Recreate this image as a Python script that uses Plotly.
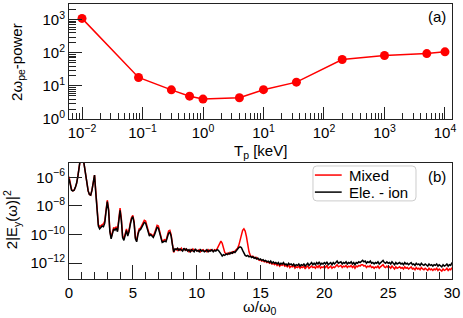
import plotly.graph_objects as go

# ---------------- data: panel (a) ----------------
tp_kev = [0.01, 0.086, 0.3, 0.6, 1.0, 4.0, 10, 35, 200, 1000, 5000, 10000]
power_2wpe = [1100, 18, 7.6, 4.9, 4.0, 4.4, 7.7, 13, 63, 83, 95, 107]

# ---------------- data: panel (b) ----------------
omega_step = 0.1  # spectrum sampled every 0.1 omega_0 from 0 to 30
series_names = ["Mixed", "Ele. - ion"]
# log10 of 2|Ey(w)|^2
eleion_log10 = [
    -6.10, -6.60, -6.90, -6.95, -6.90, -6.70, -6.40, -5.90, -5.10, -4.60,
    -4.00, -4.60, -5.20, -6.00, -6.60, -6.95, -7.20, -7.25, -6.90, -6.20,
    -5.85, -7.10, -8.70, -9.40, -9.60, -9.50, -9.40, -9.45, -9.20, -8.40,
    -7.70, -8.30, -9.80, -10.30, -9.90, -9.60, -9.70, -9.55, -9.80, -9.10,
    -8.30, -9.00, -10.20, -10.40, -10.00, -9.70, -10.10, -9.80, -9.30, -8.90,
    -8.75, -9.20, -10.30, -10.50, -10.00, -9.70, -9.65, -9.50, -9.30, -9.15,
    -9.20, -9.50, -9.95, -10.10, -10.00, -10.15, -10.20, -10.00, -9.70, -9.50,
    -9.55, -9.90, -10.40, -10.55, -10.50, -10.45, -10.50, -10.20, -9.90, -9.85,
    -10.10, -10.70, -11.20, -11.00, -11.05, -10.95, -11.10, -11.00, -11.05, -11.15,
    -10.95, -11.10, -11.00, -11.15, -11.05, -11.20, -11.05, -11.10, -11.20, -11.00,
    -11.15, -11.10, -11.20, -11.05, -11.15, -11.10, -11.20, -11.15, -11.05, -11.20,
    -11.10, -11.15, -11.05, -11.20, -11.10, -11.15, -11.05, -11.10, -11.20, -11.35,
    -11.50, -11.40, -11.45, -11.35, -11.40, -11.30, -11.35, -11.25, -11.30, -11.20,
    -11.25, -11.10, -11.00, -10.90, -10.85, -10.90, -11.10, -11.30, -11.45, -11.50,
    -11.45, -11.55, -11.50, -11.60, -11.55, -11.65, -11.60, -11.70, -11.65, -11.75,
    -11.70, -11.80, -11.75, -11.85, -11.80, -11.90, -11.85, -11.95, -11.85, -12.00,
    -11.90, -12.00, -11.95, -12.05, -11.95, -12.10, -12.00, -12.05, -11.95, -12.10,
    -12.05, -12.15, -12.00, -12.10, -12.05, -12.15, -12.05, -12.20, -12.10, -12.15,
    -12.05, -12.20, -12.10, -12.15, -12.05, -12.20, -12.10, -12.00, -12.15, -12.05,
    -11.95, -12.10, -12.00, -12.10, -11.95, -12.05, -11.90, -12.10, -12.00, -12.05,
    -11.95, -12.05, -11.90, -12.10, -12.00, -11.95, -12.10, -11.95, -12.05, -11.90,
    -11.85, -12.00, -11.95, -11.90, -12.05, -11.95, -12.00, -11.90, -12.05, -11.95,
    -12.00, -11.90, -12.05, -11.95, -12.10, -11.95, -12.00, -11.90, -11.95, -11.85,
    -11.80, -11.90, -11.85, -12.00, -11.90, -11.95, -11.85, -12.00, -11.95, -12.05,
    -11.95, -12.00, -11.90, -12.05, -11.95, -11.85, -11.80, -11.95, -12.00, -11.90,
    -12.00, -11.95, -12.05, -11.90, -12.00, -12.10, -11.95, -12.05, -12.00, -11.95,
    -12.05, -12.00, -12.10, -11.95, -12.05, -12.00, -12.10, -12.05, -11.95, -12.10,
    -12.05, -12.15, -12.00, -12.10, -12.05, -12.15, -12.00, -12.10, -12.15, -12.05,
    -12.10, -12.20, -12.05, -12.15, -12.10, -12.20, -12.10, -12.15, -12.05, -12.20,
    -12.10, -12.15, -12.25, -12.10, -12.20, -12.15, -12.05, -12.20, -12.10, -12.15,
    -11.95,
]
mixed_log10 = [
    -5.95, -6.50, -6.85, -6.95, -6.90, -6.70, -6.40, -5.90, -5.10, -4.60,
    -4.00, -4.60, -5.20, -6.00, -6.60, -6.95, -7.20, -7.25, -6.90, -6.20,
    -5.85, -7.00, -8.60, -9.30, -9.45, -9.35, -9.30, -9.25, -9.05, -8.30,
    -7.60, -8.20, -9.70, -10.20, -9.80, -9.50, -9.60, -9.45, -9.70, -9.00,
    -8.15, -8.90, -10.10, -10.30, -9.90, -9.60, -10.00, -9.70, -9.20, -8.80,
    -8.65, -9.10, -10.20, -10.40, -9.90, -9.60, -9.55, -9.40, -9.15, -9.00,
    -9.05, -9.40, -9.85, -10.00, -9.95, -10.05, -10.10, -9.90, -9.55, -9.35,
    -9.40, -9.80, -10.30, -10.50, -10.40, -10.35, -10.40, -10.05, -9.75, -9.70,
    -10.00, -10.65, -11.25, -11.05, -11.00, -11.10, -11.00, -11.10, -10.95, -11.10,
    -11.05, -11.00, -11.10, -11.05, -11.20, -11.05, -11.15, -11.00, -11.10, -11.05,
    -11.10, -11.15, -11.05, -11.20, -11.10, -11.05, -11.15, -11.10, -11.20, -11.05,
    -11.15, -11.05, -11.10, -11.15, -11.05, -11.10, -11.00, -10.85, -10.60, -10.45,
    -10.60, -10.95, -11.25, -11.35, -11.30, -11.35, -11.25, -11.30, -11.20, -11.25,
    -11.15, -11.05, -10.95, -10.75, -10.40, -10.00, -9.70, -9.60, -9.75, -10.15,
    -10.70, -11.20, -11.45, -11.55, -11.50, -11.60, -11.65, -11.60, -11.70, -11.80,
    -11.75, -11.85, -11.80, -11.90, -11.85, -11.95, -11.90, -12.00, -11.95, -12.05,
    -12.00, -12.10, -12.00, -12.15, -12.05, -12.20, -12.10, -12.15, -12.05, -12.20,
    -12.15, -12.25, -12.10, -12.30, -12.20, -12.25, -12.15, -12.35, -12.25, -12.30,
    -12.20, -12.35, -12.25, -12.30, -12.20, -12.40, -12.25, -12.20, -12.35, -12.25,
    -12.20, -12.30, -12.25, -12.35, -12.20, -12.30, -12.15, -12.35, -12.25, -12.30,
    -12.20, -12.30, -12.15, -12.35, -12.25, -12.20, -12.35, -12.25, -12.30, -12.15,
    -12.10, -12.25, -12.20, -12.15, -12.30, -12.20, -12.25, -12.15, -12.30, -12.20,
    -12.25, -12.15, -12.30, -12.20, -12.35, -12.20, -12.25, -12.15, -12.20, -12.10,
    -12.10, -12.20, -12.15, -12.30, -12.20, -12.25, -12.15, -12.30, -12.25, -12.35,
    -12.25, -12.30, -12.20, -12.35, -12.25, -12.15, -12.10, -12.25, -12.30, -12.20,
    -12.30, -12.25, -12.35, -12.20, -12.30, -12.40, -12.25, -12.35, -12.30, -12.25,
    -12.35, -12.30, -12.40, -12.25, -12.35, -12.30, -12.40, -12.35, -12.25, -12.40,
    -12.35, -12.45, -12.30, -12.40, -12.35, -12.45, -12.30, -12.40, -12.45, -12.35,
    -12.40, -12.50, -12.35, -12.45, -12.40, -12.50, -12.40, -12.45, -12.35, -12.50,
    -12.40, -12.45, -12.55, -12.40, -12.50, -12.45, -12.35, -12.50, -12.40, -12.45,
    -12.30,
]

# tick labels
top_x_exps = [-2, -1, 0, 1, 2, 3, 4]
top_y_exps = [0, 1, 2, 3]
bot_y_exps = [-12, -10, -8, -6]


def pow_label(e):
    s = str(e).replace("-", "\u2212")
    return "10<sup>" + s + "</sup>"


omega = [round(i * omega_step, 2) for i in range(len(eleion_log10))]
eleion = [10 ** v for v in eleion_log10]
mixed = [10 ** v for v in mixed_log10]

FONT = "Liberation Sans, Arial, Helvetica, sans-serif"
AX = "#222222"
RED = "#ff0000"
BLACK = "#000000"

fig = go.Figure()
fig.add_trace(go.Scatter(
    x=tp_kev, y=power_2wpe, mode="lines+markers",
    line=dict(color=RED, width=1.5),
    marker=dict(color=RED, size=9),
    showlegend=False, xaxis="x", yaxis="y"))
fig.add_trace(go.Scatter(
    x=omega, y=mixed, mode="lines", name=series_names[0],
    line=dict(color=RED, width=1.5), showlegend=False,
    xaxis="x2", yaxis="y2"))
fig.add_trace(go.Scatter(
    x=omega, y=eleion, mode="lines", name=series_names[1],
    line=dict(color=BLACK, width=1.5), showlegend=False,
    xaxis="x2", yaxis="y2"))

minor_top_x = [m * 10.0 ** d for d in range(-3, 5) for m in range(2, 10)]
minor_top_y = [m * 10.0 ** d for d in range(0, 4) for m in range(2, 10)]

common = dict(showgrid=False, zeroline=False, showline=True, linecolor=AX,
              linewidth=1, mirror=True, ticks="inside", tickcolor=AX,
              tickwidth=1, tickfont=dict(family=FONT, size=15, color="#000"))

fig.update_layout(
    width=463, height=318,
    margin=dict(l=69, r=11, t=4, b=39),
    paper_bgcolor="white", plot_bgcolor="white",
    font=dict(family=FONT, size=15, color="#000"),
    showlegend=False,
    xaxis=dict(domain=[0, 1], anchor="y", type="log",
               range=[-2.215, 4.116],
               tickmode="array",
               tickvals=[10.0 ** e for e in top_x_exps],
               ticktext=[pow_label(e) for e in top_x_exps],
               ticklen=12,
               minor=dict(tickmode="array", tickvals=minor_top_x,
                          ticks="inside", ticklen=6, tickcolor=AX,
                          showgrid=False),
               **common),
    yaxis=dict(domain=[0.5818, 1], anchor="x", type="log",
               range=[0, 3.476],
               tickmode="array",
               tickvals=[10.0 ** e for e in top_y_exps],
               ticktext=[pow_label(e) for e in top_y_exps],
               ticklen=13,
               minor=dict(tickmode="array", tickvals=minor_top_y,
                          ticks="inside", ticklen=7, tickcolor=AX,
                          showgrid=False),
               **common),
    xaxis2=dict(domain=[0, 1], anchor="y2", range=[0, 30],
                tickmode="linear", tick0=0, dtick=5, ticklen=14,
                minor=dict(dtick=1, ticks="inside", ticklen=7,
                           tickcolor=AX, showgrid=False),
                **common),
    yaxis2=dict(domain=[0, 0.4218], anchor="x2", type="log",
                range=[-13.1, -5.0],
                tickmode="array",
                tickvals=[10.0 ** e for e in bot_y_exps],
                ticktext=[pow_label(e) for e in bot_y_exps],
                ticklen=13,
                **common),
)

annots = [
    dict(text="(a)", x=0.961, y=0.953),
    dict(text="(b)", x=0.961, y=0.371),
    dict(text="T<sub>p</sub> [keV]", x=0.4987, y=0.462),
    dict(text="\u03c9/\u03c9<sub>0</sub>", x=0.4987, y=-0.103),
    dict(text="2\u03c9<sub>pe</sub>-power", x=-0.136, y=0.789, textangle=-90),
    dict(text="2|E<sub>y</sub>(\u03c9)|<sup>2</sup>", x=-0.151, y=0.2145,
         textangle=-90),
]
for a in annots:
    fig.add_annotation(xref="paper", yref="paper", showarrow=False,
                       xanchor="center", yanchor="middle",
                       font=dict(family=FONT, size=15, color="#000"), **a)

# ---- legend box (drawn in paper coordinates) ----
lx0, lx1, ly0, ly1 = 0.637, 0.906, 0.284, 0.411
r = 0.01
fig.add_shape(type="path", xref="paper", yref="paper",
              path=(f"M {lx0+r},{ly0} L {lx1-r},{ly0} Q {lx1},{ly0} {lx1},{ly0+r*1.4} "
                    f"L {lx1},{ly1-r*1.4} Q {lx1},{ly1} {lx1-r},{ly1} "
                    f"L {lx0+r},{ly1} Q {lx0},{ly1} {lx0},{ly1-r*1.4} "
                    f"L {lx0},{ly0+r*1.4} Q {lx0},{ly0} {lx0+r},{ly0} Z"),
              line=dict(color="#cccccc", width=1), fillcolor="white", layer="above")
entry_y = [0.378, 0.316]
for name, col, yy in zip(series_names, [RED, BLACK], entry_y):
    fig.add_shape(type="line", xref="paper", yref="paper",
                  x0=0.642, x1=0.712, y0=yy, y1=yy,
                  line=dict(color=col, width=1.5), layer="above")
    fig.add_annotation(xref="paper", yref="paper", showarrow=False,
                       x=0.726, y=yy, xanchor="left", yanchor="middle",
                       text=name, font=dict(family=FONT, size=15, color="#000"))

fig.write_html("out.html", config={"displayModeBar": False},
               post_script="document.body.style.margin='0px';")
